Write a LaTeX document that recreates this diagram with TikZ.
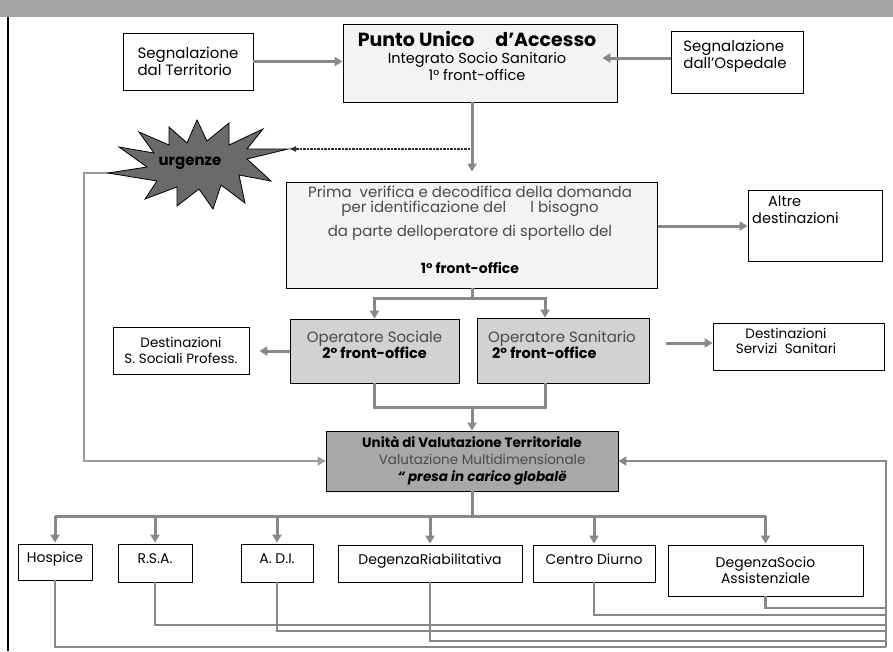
\documentclass[tikz,border=0pt]{standalone}
\usepackage{fontspec}
\setmainfont{Poppins}
\usetikzlibrary{arrows.meta}
\pgfdeclarelayer{back}
\pgfsetlayers{back,main}

\definecolor{bandgray}{HTML}{A3A3A3}
\definecolor{linkgray}{HTML}{888888}
\definecolor{thingray}{HTML}{9C9C9C}
\definecolor{palefill}{HTML}{F3F3F3}
\definecolor{opfill}{HTML}{D2D2D2}
\definecolor{uvtfill}{HTML}{A8A8A8}
\definecolor{burstfill}{HTML}{6A6A6A}
\definecolor{softtext}{HTML}{4A4A4A}
\definecolor{dotline}{HTML}{303030}

\newcommand{\fs}[1]{\fontsize{#1}{1.15\dimexpr#1pt\relax}\selectfont}

\begin{document}
\begin{tikzpicture}[x=1pt,y=-1pt,
  box/.style={draw=black, line width=0.8pt, fill=white, inner sep=0pt, align=center,
              font=\fs{14}},
  onerow/.style={box, text height=10pt, text depth=9pt},
  txt/.style={inner sep=0pt, align=center, font=\fs{14}},
  link/.style={draw=linkgray, line width=3pt},
  ret/.style={draw=linkgray, line width=2.4pt},
  thinlink/.style={draw=thingray, line width=1.3pt},
  tip/.style={-{Triangle[length=8pt,width=9pt]}},
  dotlink/.style={draw=dotline, line width=1.2pt, dash pattern=on 2.5pt off 1pt,
                  -{Latex[length=7pt,width=6pt]}},
]
\useasboundingbox (0,0) rectangle (893,651);

% page background, header band and left rule
\begin{pgfonlayer}{back}
  \fill[white] (0,0) rectangle (893,651);
  \fill[bandgray] (0,0) rectangle (893,17);
  \draw[black, line width=2.2pt] (8,17) -- (8,651);
\end{pgfonlayer}

% ---- top row
\node[box, minimum width=130pt, minimum height=57pt, align=left, font=\fs{15}] (terr) at (188,61.5)
  {Segnalazione\\dal Territorio};
\node[box, fill=palefill, minimum width=274pt, minimum height=78pt] (pua) at (480,63) {};
\node[txt, font=\fs{14.5}] (puat) at (477,56)
  {{\fontsize{19}{21}\selectfont\bfseries Punto Unico\hspace{1.1em}d’Accesso}\\[0pt]
   Integrato Socio Sanitario\\1° front-office};
\node[box, minimum width=132pt, minimum height=62pt] (osp) at (737,62) {};
\node[txt, align=left, font=\fs{15}] (ospt) at (735,56) {Segnalazione\\dall’Ospedale};

% ---- emergencies (burst outline is drawn on the back layer below)
\node[txt, font=\fs{15}\bfseries] (urg) at (190,163) {urgenze};

% ---- first screening
\node[box, fill=palefill, minimum width=371pt, minimum height=106pt] (prima) at (472,235) {};
\node[txt, text=softtext, font=\fontsize{15}{15}\selectfont] (primat) at (470,230)
  {Prima\ \ verifica e decodifica della domanda\\
   per identificazione del\hspace{1.6em}l bisogno\hspace*{5.5em}\\[8pt]
   da parte delloperatore di sportello del\\[21pt]
   {\fs{14}\bfseries\color{black}1° front-office}};
\node[box, minimum width=134pt, minimum height=71pt] (altre) at (815,225.5) {};
\node[txt, align=left, anchor=west, font=\fs{14.5}] (altret) at (752,210) {\hspace*{1.1em}Altre\\destinazioni};

% ---- second front-office
\node[box, minimum width=136pt, minimum height=47pt, font=\fs{13.5}] (destsoc) at (181,350.5)
  {Destinazioni\\S. Sociali Profess.};
\node[box, fill=opfill, minimum width=169pt, minimum height=64pt] (opsoc) at (374.5,351) {};
\node[txt] (opsoct) at (374.5,345)
  {{\fs{15}\color{softtext}Operatore Sociale}\\{\fs{14.5}\bfseries 2° front-office}};
\node[box, fill=opfill, minimum width=172pt, minimum height=65pt] (opsan) at (563,350.5) {};
\node[txt, align=left] (opsant) at (562,345)
  {{\fs{15}\color{softtext}Operatore Sanitario}\\\hspace*{4pt}{\fs{14.5}\bfseries 2° front-office}};
\node[box, minimum width=171pt, minimum height=47pt] (destsan) at (798.5,346.5) {};
\node[txt, font=\fs{13.5}] (destsant) at (786,341) {Destinazioni\\Servizi\ \ Sanitari};

% ---- territorial assessment unit
\node[box, fill=uvtfill, minimum width=292pt, minimum height=60pt,
      font=\fontsize{13.5}{17}\selectfont] (uvt) at (472,461)
  {\textbf{Unità di Valutazione Territoriale}\\
   \hspace*{1.5em}{\color{softtext}Valutazione Multidimensionale}\\
   \hspace*{1.5em}\textbf{\itshape “ presa in carico globalë}};

% ---- services
\node[onerow, minimum width=74pt,  minimum height=36pt] (hosp) at (55,562)    {Hospice};
\node[onerow, minimum width=74pt,  minimum height=38pt] (rsa)  at (155,563)   {R.S.A.};
\node[onerow, minimum width=72pt,  minimum height=38pt] (adi)  at (277,563)   {A. D.I.};
\node[onerow, minimum width=184pt, minimum height=37pt] (degr) at (430,563.5) {DegenzaRiabilitativa};
\node[onerow, minimum width=122pt, minimum height=37pt] (cd)   at (594,563.5) {Centro Diurno};
\node[box, minimum width=195pt, minimum height=51pt] (degs) at (765.5,570.5)
  {DegenzaSocio\\Assistenziale};

% ---- junction points
\coordinate (dotsrc) at (470,149);
\coordinate (ul) at (84,173);
\coordinate (br) at (472,298);
\coordinate (mg) at (472,407);
\coordinate (fan) at (472,516);
\coordinate (rtop) at (886,461);
\coordinate (r1) at (886,608);
\coordinate (r2) at (886,615);
\coordinate (r3) at (886,625);
\coordinate (r4) at (886,631);
\coordinate (r5) at (886,641);
\coordinate (r6) at (886,647);

% ---- urgent-case return line, then the burst on top of its start
\begin{pgfonlayer}{back}
  \draw[thinlink,tip] ([xshift=9pt,yshift=-10pt]urg.center) -- (ul) |- (uvt.west);
  \begin{scope}[shift={([xshift=9pt,yshift=-2pt]urg.center)}]
    \draw[black, line width=0.8pt, fill=burstfill, line join=miter]
      (89,-16) -- (48,-6) -- (72,16) -- (40,10) -- (46,38) -- (22,20) -- (14,44)
      -- (0,24) -- (-22,41) -- (-22,22) -- (-54,34) -- (-42,16) -- (-91,8) -- (-52,2)
      -- (-80,-18) -- (-45,-12) -- (-60,-33) -- (-30,-20) -- (-30,-38) -- (-12,-22)
      -- (-2,-45) -- (8,-24) -- (30,-42) -- (30,-20) -- (64,-36) -- (48,-16) -- cycle;
  \end{scope}
\end{pgfonlayer}

% ---- connectors
\draw[link,tip] (terr.east) -- (pua.west |- terr.east);
\draw[link,tip] ([yshift=4pt]osp.west) -- ([xshift=-15pt,yshift=5pt]pua.east);
\draw[link,tip,shorten >=10pt] ([xshift=-8pt]pua.south) -- (prima.north);
\draw[dotlink] (dotsrc) -- ([xshift=99pt,yshift=14pt]urg.center);

\draw[link,tip] ([yshift=9pt]prima.east) -- (altre.west |- 0,226);
\draw[link] (prima.south) -- (br);
\draw[link,tip] (br) -| (opsoc.north);
\draw[link,tip] (br) -| ([xshift=-18pt]opsan.north);
\draw[link,tip,shorten >=10pt] (opsoc.west) -- (destsoc.east |- opsoc.west);
\draw[link,tip] ([xshift=17pt,yshift=7.5pt]opsan.east) -- ([yshift=3.5pt]destsan.west);

\draw[link] (opsoc.south) |- (mg);
\draw[link] ([xshift=-18pt]opsan.south) |- (mg);
\draw[link,tip] (mg) -- (uvt.north);

\draw[link] (uvt.south) -- (fan);
\draw[link] (hosp.north |- fan) -- (degs.north |- fan);
\foreach \b in {hosp,rsa,adi,degr,cd,degs}
  \draw[link,tip,shorten >=1pt] (\b.north |- fan) -- (\b.north);

\draw[ret] (degs.south) |- (r1);
\draw[ret] (cd.south) |- (r2);
\draw[ret] (rsa.south) |- (r3);
\draw[ret] (adi.south) |- (r4);
\draw[ret] (degr.south) |- (r5);
\draw[ret] (hosp.south) |- (r6);
\draw[ret,tip] (r6) -- (rtop) -- (uvt.east);
\end{tikzpicture}
\end{document}
